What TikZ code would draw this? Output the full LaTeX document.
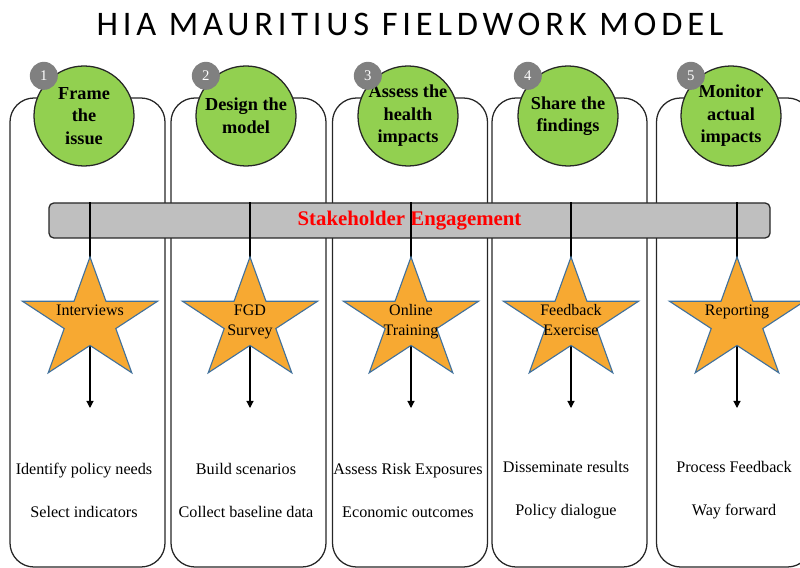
\documentclass[tikz,border=0pt]{standalone}
\usepackage{fontspec}
\setmainfont{Liberation Serif}
\newfontfamily\titlefont[LetterSpace=14]{Carlito}
\usepackage{xcolor}
\definecolor{step-green}{RGB}{146,208,80}
\definecolor{step-gray}{RGB}{128,128,128}
\definecolor{band-gray}{RGB}{191,191,191}
\definecolor{band-red}{RGB}{255,0,0}
\definecolor{star-fill}{RGB}{247,169,50}
\definecolor{star-line}{RGB}{65,113,156}
\usepackage{tikz}
\usetikzlibrary{shapes.geometric,arrows.meta}

\begin{document}
\begin{tikzpicture}[
    every node/.style={inner sep=0pt},
    colbox/.style={draw=black!85, line width=0.9pt, rounded corners=0.6cm,
        minimum width=3.875cm, minimum height=11.725cm},
    stepball/.style={circle, draw=black!85, line width=0.9pt, fill=step-green,
        minimum size=2.5cm, align=center, font=\fontsize{13}{16}\selectfont\bfseries},
    stepnum/.style={circle, fill=step-gray, minimum size=0.7cm, text=white,
        font=\fontsize{10.5}{12}\selectfont},
    starbox/.style={star, star points=5, star point ratio=2.618, minimum size=3.2cm,
        draw=star-line, line width=0.8pt, fill=star-fill, xscale=1.11},
    flow/.style={black, line width=0.8pt, -{Triangle[length=5pt,width=5pt]}}
]
\useasboundingbox (0,0) rectangle (20,14.2);
\clip (0,0) rectangle (20,14.2);

% Title
\node[font=\titlefont\fontsize{24.5}{28}\selectfont] (title) at (10.25,13.6)
    {HIA MAURITIUS FIELDWORK MODEL};

% Columns with numbered step circles
\foreach \i/\bx/\cx/\head in {
    1/2.1875/2.1/{Frame\\the\\issue},
    2/6.2125/6.15/{Design the\\model},
    3/10.25/10.2/{Assess the\\health\\impacts},
    4/14.2375/14.2/{Share the\\findings},
    5/18.35/18.275/{Monitor\\actual\\impacts}} {
    \node[colbox] (col\i) at (\bx,5.8875) {};
    \node[stepball] (head\i) at (\cx,11.3) {\head};
    \node[stepnum] (num\i) at ([shift={(135:1.42)}]head\i.center) {\i};
}

% Stakeholder band
\node[draw=black!85, line width=0.9pt, fill=band-gray, rounded corners=0.12cm,
    minimum width=18.025cm, minimum height=0.875cm,
    font=\fontsize{14.8}{18}\selectfont\bfseries, text=band-red]
    (band) at (10.2375,8.6875) {Stakeholder Engagement};

% Methods (stars) and outputs
\foreach \i/\sx/\cx/\act/\todo in {
    1/2.25/2.1/{Interviews}/{Identify policy needs\\[16.5pt]Select indicators},
    2/6.25/6.15/{FGD\\Survey}/{Build scenarios\\[16.5pt]Collect baseline data},
    3/10.275/10.2/{Online\\Training}/{Assess Risk Exposures\\[16.5pt]Economic outcomes},
    4/14.275/14.15/{Feedback\\Exercise}/{Disseminate results\\[16.5pt]Policy dialogue},
    5/18.425/18.35/{Reporting}/{Process Feedback\\[16.5pt]Way forward}} {
    \coordinate (tip\i) at (\sx,4.0);
    \draw[flow] (band.north -| tip\i) -- (tip\i);
    \node[starbox] (star\i) at (\sx,6.175) {};
    \node[font=\fontsize{11.4}{14.2}\selectfont, align=center, anchor=north]
        (act\i) at ([yshift=0.41cm]star\i.center) {\act};
    \node[font=\fontsize{11.5}{14}\selectfont, align=center]
        (do\i) at (\cx,1.94) {\todo};
}

\end{tikzpicture}
\end{document}
